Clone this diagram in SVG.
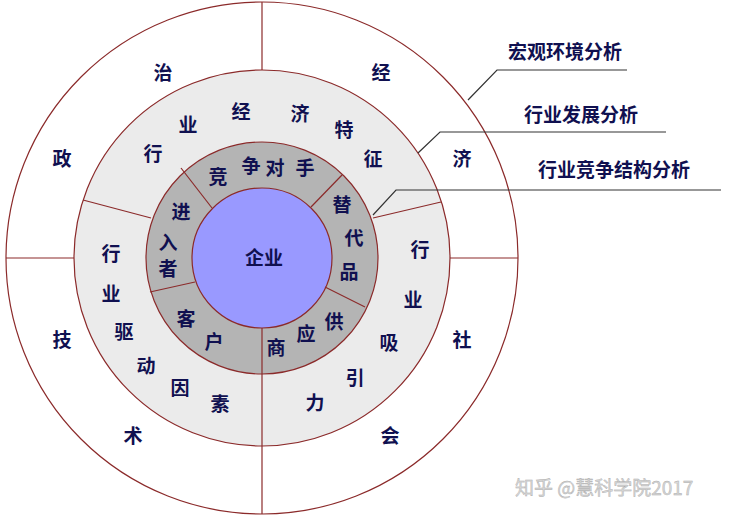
<svg xmlns="http://www.w3.org/2000/svg" width="737" height="517" viewBox="0 0 737 517">
<style>
.r{stroke:#8b2a2a;stroke-width:1.2}
.t{font-family:"Noto Sans CJK SC",sans-serif;font-weight:bold;font-size:19px;fill:#101050;text-anchor:middle;dominant-baseline:central}
.c{stroke:#333;stroke-width:1.2;fill:none}
</style>
<rect width="737" height="517" fill="#fff"/>
<g id="rings">
<circle class="r" cx="262" cy="258" r="256" fill="#fff"/>
<circle class="r" cx="262" cy="258" r="188" fill="#ebebeb"/>
<circle class="r" cx="262" cy="258" r="116" fill="#b4b4b4"/>
<circle class="r" cx="262" cy="258" r="70" fill="#9999ff"/>
</g>
<g id="dividers" class="r">
<line x1="262" y1="2" x2="262" y2="70"/><line x1="262" y1="446" x2="262" y2="514"/>
<line x1="6" y1="258" x2="74" y2="258"/><line x1="450" y1="258" x2="518" y2="258"/>
<line x1="83" y1="200" x2="151" y2="218"/><line x1="441" y1="202" x2="373" y2="218"/>
<line x1="262" y1="374" x2="262" y2="446"/>
<line x1="181" y1="168" x2="212" y2="208"/><line x1="342" y1="175" x2="311" y2="207"/>
<line x1="150" y1="292" x2="195" y2="282"/><line x1="325" y1="287" x2="365" y2="307"/>
<line x1="262" y1="328" x2="262" y2="374"/>
</g>
<g id="connectors" class="c">
<polyline points="468,100 497,70 627,70"/>
<polyline points="418,153 440,132 666,132"/>
<polyline points="373,215 396,190 721,190"/>
</g>
<g id="center"><text class="t" x="264" y="256" font-size="21">企业</text></g>
<g id="inner">
<text class="t" x="218" y="175">竞</text><text class="t" x="251" y="164">争</text><text class="t" x="275" y="166">对</text><text class="t" x="305" y="166">手</text>
<text class="t" x="342" y="203">替</text><text class="t" x="354" y="236">代</text><text class="t" x="349" y="270">品</text>
<text class="t" x="334" y="320">供</text><text class="t" x="306" y="332">应</text><text class="t" x="276" y="346">商</text>
<text class="t" x="186" y="317">客</text><text class="t" x="214" y="340">户</text>
<text class="t" x="181" y="210">进</text><text class="t" x="168" y="241">入</text><text class="t" x="168" y="267">者</text>
</g>
<g id="middle">
<text class="t" x="153" y="152">行</text><text class="t" x="188" y="123">业</text><text class="t" x="241" y="110">经</text><text class="t" x="300" y="112">济</text><text class="t" x="344" y="128">特</text><text class="t" x="373" y="157">征</text>
<text class="t" x="420" y="248">行</text><text class="t" x="413" y="298">业</text><text class="t" x="389" y="341">吸</text><text class="t" x="355" y="376">引</text><text class="t" x="315" y="401">力</text>
<text class="t" x="111" y="252">行</text><text class="t" x="111" y="292">业</text><text class="t" x="124" y="330">驱</text><text class="t" x="146" y="364">动</text><text class="t" x="180" y="386">因</text><text class="t" x="220" y="402">素</text>
</g>
<g id="outer">
<text class="t" x="163" y="71">治</text><text class="t" x="381" y="71">经</text><text class="t" x="462" y="157">济</text>
<text class="t" x="62" y="157">政</text><text class="t" x="62" y="338">技</text><text class="t" x="133" y="434">术</text>
<text class="t" x="462" y="338">社</text><text class="t" x="390" y="434">会</text>
</g>
<g id="labels">
<text class="t" x="565" y="50">宏观环境分析</text>
<text class="t" x="581" y="113">行业发展分析</text>
<text class="t" x="614" y="168">行业竞争结构分析</text>
</g>
<text x="515" y="495" font-family="Noto Sans CJK SC,sans-serif" font-size="19" fill="#d8d8d8" stroke="#aaa" stroke-width="0.4">知乎 @慧科学院2017</text>
</svg>
